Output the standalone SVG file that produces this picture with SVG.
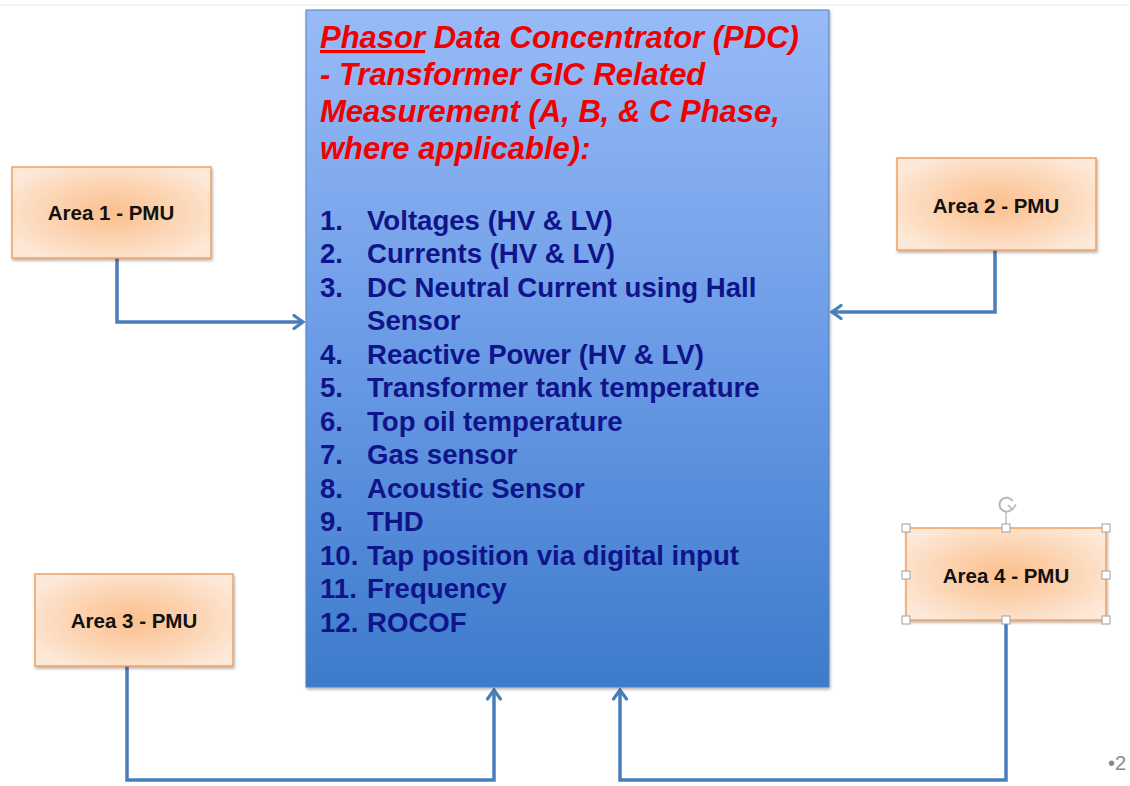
<svg xmlns="http://www.w3.org/2000/svg" width="1130" height="786" viewBox="0 0 1130 786">
  <style>
    .pmu-box { stroke: #f0a060; stroke-width: 1.5; filter: url(#shadow); }
    .pmu-label { font-family: "Liberation Sans", Arial, sans-serif; font-weight: bold; font-size: 20.5px; fill: #111; text-anchor: middle; }
    .title { font-family: "Liberation Sans", Arial, sans-serif; font-weight: bold; font-style: italic; font-size: 31px; fill: #f00000; }
    .item { font-family: "Liberation Sans", Arial, sans-serif; font-weight: bold; font-size: 27.6px; fill: #10148a; }
    .link { fill: none; stroke: #4a7ebb; stroke-width: 3.5; stroke-linejoin: miter; }
    .handle { fill: #fff; stroke: #a0a0a0; stroke-width: 1; }
  </style>
  <defs>
    <linearGradient id="pdcFill" x1="0" y1="0" x2="0" y2="1">
      <stop offset="0" stop-color="#98bbf7"/>
      <stop offset="0.5" stop-color="#6b9be6"/>
      <stop offset="1" stop-color="#3d7bcc"/>
    </linearGradient>
    <radialGradient id="pmuFill" cx="0.5" cy="0.5" r="0.6">
      <stop offset="0" stop-color="#fbbf8c"/>
      <stop offset="0.6" stop-color="#fcd7b8"/>
      <stop offset="1" stop-color="#fde9d9"/>
    </radialGradient>
    <filter id="shadow" x="-10%" y="-10%" width="125%" height="130%">
      <feDropShadow dx="1" dy="2" stdDeviation="1.5" flood-color="#000" flood-opacity="0.3"/>
    </filter>
    <marker id="arrow" viewBox="0 0 16 16" refX="13" refY="8" markerWidth="16" markerHeight="16" markerUnits="userSpaceOnUse" orient="auto">
      <path d="M4,1.5 L13,8 L4,14.5" fill="none" stroke="#4a7ebb" stroke-width="3.2" stroke-linecap="round"/>
    </marker>
  </defs>

  <!-- faint slide edge -->
  <line x1="0" y1="5" x2="1130" y2="5" stroke="#ececec" stroke-width="1"/>

  <!-- connectors -->
  <g id="connectors">
    <path class="link" d="M117,258 V322 H303" marker-end="url(#arrow)"/>
    <path class="link" d="M995,250 V312 H832" marker-end="url(#arrow)"/>
    <path class="link" d="M127,666 V780 H494 V690" marker-end="url(#arrow)"/>
    <path class="link" d="M1006,620 V780 H620 V690" marker-end="url(#arrow)"/>
  </g>

  <!-- central concentrator box -->
  <g id="pdc">
    <rect x="306" y="10" width="523" height="677" fill="url(#pdcFill)" stroke="#4f81bd" stroke-width="1" filter="url(#shadow)"/>
    <text class="title" x="320" y="48"><tspan text-decoration="underline">Phasor</tspan> Data Concentrator (PDC)</text>
    <text class="title" x="320" y="85">- Transformer GIC Related</text>
    <text class="title" x="320" y="122">Measurement (A, B, &amp; C Phase,</text>
    <text class="title" x="320" y="159">where applicable):</text>
    <g class="item">
      <text x="320" y="230">1.</text><text x="367" y="230">Voltages (HV &amp; LV)</text>
      <text x="320" y="263">2.</text><text x="367" y="263">Currents (HV &amp; LV)</text>
      <text x="320" y="297">3.</text><text x="367" y="297">DC Neutral Current using Hall</text>
      <text x="367" y="330">Sensor</text>
      <text x="320" y="364">4.</text><text x="367" y="364">Reactive Power (HV &amp; LV)</text>
      <text x="320" y="397">5.</text><text x="367" y="397">Transformer tank temperature</text>
      <text x="320" y="431">6.</text><text x="367" y="431">Top oil temperature</text>
      <text x="320" y="464">7.</text><text x="367" y="464">Gas sensor</text>
      <text x="320" y="498">8.</text><text x="367" y="498">Acoustic Sensor</text>
      <text x="320" y="531">9.</text><text x="367" y="531">THD</text>
      <text x="320" y="565">10.</text><text x="367" y="565">Tap position via digital input</text>
      <text x="320" y="598">11.</text><text x="367" y="598">Frequency</text>
      <text x="320" y="632">12.</text><text x="367" y="632">ROCOF</text>
    </g>
  </g>

  <!-- measurement units -->
  <g id="area1">
    <rect class="pmu-box" x="12" y="167" width="199" height="91" fill="url(#pmuFill)"/>
    <text class="pmu-label" x="111" y="220">Area 1 - PMU</text>
  </g>
  <g id="area2">
    <rect class="pmu-box" x="897" y="158" width="199" height="92" fill="url(#pmuFill)"/>
    <text class="pmu-label" x="996" y="213">Area 2 - PMU</text>
  </g>
  <g id="area3">
    <rect class="pmu-box" x="35" y="574" width="198" height="92" fill="url(#pmuFill)"/>
    <text class="pmu-label" x="134" y="628">Area 3 - PMU</text>
  </g>
  <g id="area4">
    <rect class="pmu-box" x="906" y="528" width="200" height="92" fill="url(#pmuFill)"/>
    <text class="pmu-label" x="1006" y="583">Area 4 - PMU</text>
    <!-- selection handles and rotate grip -->
    <line x1="1006" y1="513" x2="1006" y2="528" stroke="#a0a0a0" stroke-width="1"/>
    <path d="M1012,509 A7,7 0 1 1 1012.5,501" fill="none" stroke="#b8b8b8" stroke-width="2"/>
    <path d="M1008,505 L1012.5,509.5 L1016,504.5" fill="none" stroke="#b8b8b8" stroke-width="1.6"/>
    <rect class="handle" x="902" y="524" width="8" height="8"/>
    <rect class="handle" x="1002" y="524" width="8" height="8"/>
    <rect class="handle" x="1102" y="524" width="8" height="8"/>
    <rect class="handle" x="902" y="571" width="8" height="8"/>
    <rect class="handle" x="1102" y="571" width="8" height="8"/>
    <rect class="handle" x="902" y="616" width="8" height="8"/>
    <rect class="handle" x="1002" y="616" width="8" height="8"/>
    <rect class="handle" x="1102" y="616" width="8" height="8"/>
  </g>

  <!-- slide number -->
  <text x="1108" y="770" font-family="Liberation Sans, Arial, sans-serif" font-size="20" fill="#8a8a8a">•2</text>
</svg>
